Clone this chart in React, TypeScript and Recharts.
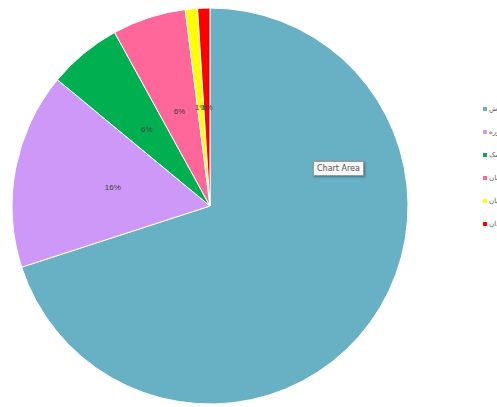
import React from "react";
import { PieChart, Pie, Cell, Legend } from "recharts";

const categories = ["آموزش", "مشاوره", "پزشک", "کارکنان", "دانشجویان", "استادان"];
const values = [70, 16, 6, 6, 1, 1];
const colors = ["#68B0C4", "#CE98F8", "#00B050", "#FF6699", "#FFFF00", "#FF0000"];

const data = categories.map((name, i) => ({ name, value: values[i] }));
const total = values.reduce((a, b) => a + b, 0);

const RADIAN = Math.PI / 180;

const renderLabel = (props: any) => {
  const { cx, cy, midAngle, outerRadius, index, value } = props;
  if (index === 0) return null;
  const r = outerRadius * 0.5;
  const x = cx + r * Math.cos(-midAngle * RADIAN);
  const y = cy + r * Math.sin(-midAngle * RADIAN);
  return (
    <text
      x={x}
      y={y}
      textAnchor="middle"
      dominantBaseline="central"
      fontSize={8}
      fontFamily="'Liberation Sans', Arial, sans-serif"
      fill="#404040"
    >
      {`${Math.round((value / total) * 100)}%`}
    </text>
  );
};

const renderLegend = () => (
  <ul style={{ listStyle: "none", margin: 0, padding: 0 }}>
    {data.map((d, i) => (
      <li
        key={d.name}
        style={{
          height: 23,
          display: "flex",
          alignItems: "center",
          whiteSpace: "nowrap",
          fontSize: 7,
          color: "#595959",
          fontFamily: "'DejaVu Sans', sans-serif",
        }}
      >
        <span
          style={{
            display: "inline-block",
            width: 4,
            height: 4,
            background: colors[i],
            marginRight: 2,
          }}
        />
        <span dir="rtl">{d.name}</span>
      </li>
    ))}
  </ul>
);

export default function App() {
  return (
    <div
      style={{
        position: "fixed",
        left: 0,
        top: 0,
        width: 497,
        height: 407,
        overflow: "hidden",
        background: "#fff",
      }}
    >
      <PieChart width={497} height={407} margin={{ top: 0, right: 0, bottom: 0, left: 0 }}>
        <Pie
          data={data}
          dataKey="value"
          nameKey="name"
          cx={210}
          cy={206}
          outerRadius={198}
          startAngle={90}
          endAngle={-270}
          stroke="#ffffff"
          strokeWidth={1}
          label={renderLabel}
          labelLine={false}
          isAnimationActive={false}
        >
          {data.map((d, i) => (
            <Cell key={d.name} fill={colors[i]} />
          ))}
        </Pie>
        <Legend
          content={renderLegend}
          wrapperStyle={{ position: "absolute", left: 483, top: 97, width: 60 }}
        />
      </PieChart>
      <div
        style={{
          position: "absolute",
          left: 313,
          top: 161,
          padding: "1px 3px",
          background: "#f7f7f7",
          border: "1px solid #9a9a9a",
          boxShadow: "1px 1px 2px rgba(0,0,0,0.35)",
          fontSize: 8,
          fontFamily: "'DejaVu Sans', sans-serif",
          color: "#555",
          lineHeight: "11px",
        }}
      >
        Chart Area
      </div>
    </div>
  );
}
